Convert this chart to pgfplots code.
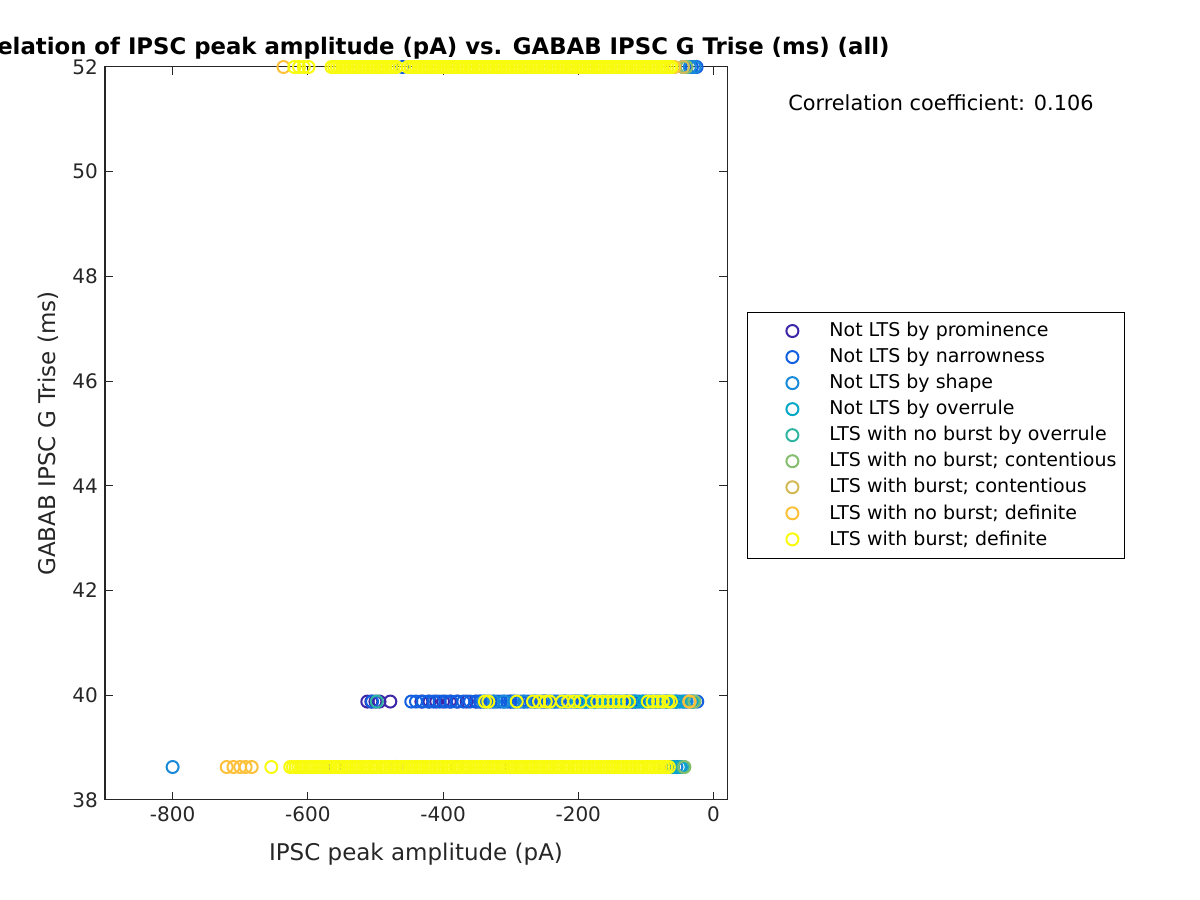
\documentclass[border=0pt]{standalone}
\usepackage{pgfplots}
\pgfplotsset{compat=1.18}
\usepackage{fontspec}
\setmainfont{DejaVu Sans}

\definecolor{c1}{RGB}{62,38,168}
\definecolor{c2}{RGB}{18,96,224}
\definecolor{c3}{RGB}{24,138,216}
\definecolor{c4}{RGB}{6,168,200}
\definecolor{c5}{RGB}{48,182,160}
\definecolor{c6}{RGB}{132,190,110}
\definecolor{c7}{RGB}{212,186,86}
\definecolor{c8}{RGB}{252,192,58}
\definecolor{c9}{RGB}{249,251,14}
\definecolor{axgray}{RGB}{38,38,38}

\begin{document}
\begin{tikzpicture}
\useasboundingbox (0,0) rectangle (600pt,450pt);
\begin{axis}[
  at={(52.5pt,50pt)}, anchor=south west,
  scale only axis,
  width=311pt, height=366.5pt,
  xmin=-900, xmax=20,
  ymin=38, ymax=52,
  xtick={-800,-600,-400,-200,0},
  ytick={38,40,...,52},
  tick align=inside,
  major tick length=4pt,
  axis line style={axgray, line width=0.5pt},
  every tick/.style={axgray, line width=0.5pt},
  tick label style={font=\fontsize{10}{12}\selectfont, text=axgray},
  /pgf/number format/assume math mode=true,
  /pgf/number format/set thousands separator={},
  xlabel={IPSC peak amplitude (pA)},
  ylabel={GABAB IPSC G Trise (ms)},
  label style={font=\fontsize{11.5}{13}\selectfont, text=axgray},
  xlabel style={yshift=-3.5pt},
  title={Correlation of IPSC peak amplitude (pA) vs. GABAB IPSC G Trise (ms) (all)},
  title style={font=\bfseries\fontsize{11.4}{13}\selectfont, yshift=-5.5pt},
  clip=false,
  every axis plot/.append style={only marks, mark=o, mark size=3pt, line width=1pt},
  legend cell align=left,
  legend style={at={(1.032,0.666)}, anchor=north west, draw=black, line width=0.5pt,
    font=\fontsize{9.5}{11}\selectfont, row sep=0.3pt, inner xsep=2pt, inner ysep=3pt},
  legend image code/.code={\path[draw=none] (0pt,0pt) -- (37pt,0pt);
    \draw[#1, only marks] plot coordinates {(20.5pt,0pt)};},
]
% Not LTS by prominence
\addplot[c1] coordinates {
(-512,39.88) (-506,39.88) (-500,39.88) (-494,39.88) (-478,39.88) (-432,39.88) (-420,39.88)
(-410,39.88) (-400,39.88) (-390,39.88) (-378,39.88) (-365,39.88) (-352,39.88) (-345,39.88)
(-300,39.88) (-250,39.88) (-120,39.88) (-380,38.63) (-300,38.63)};
% Not LTS by narrowness
\addplot[c2] coordinates {
(-505,39.88) (-447,39.88) (-440,39.88) (-430,39.88) (-422,39.88) (-414,39.88) (-405,39.88)
(-396,39.88) (-388,39.88) (-380,39.88) (-370,39.88) (-360,39.88) (-350,39.88) (-340,39.88)
(-330,39.88) (-320,39.88) (-310,39.88) (-300,39.88) (-290,39.88) (-280,39.88) (-270,39.88)
(-260,39.88) (-250,39.88) (-240,39.88) (-230,39.88) (-220,39.88) (-210,39.88) (-200,39.88)
(-190,39.88) (-180,39.88) (-170,39.88) (-160,39.88) (-150,39.88) (-140,39.88) (-130,39.88)
(-120,39.88) (-110,39.88) (-100,39.88) (-90,39.88) (-80,39.88) (-70,39.88) (-60,39.88)
(-50,39.88) (-40,39.88) (-30,39.88) (-24,39.88)
(-345,39.88) (-335,39.88) (-325,39.88) (-315,39.88) (-305,39.88) (-295,39.88) (-285,39.88)
(-275,39.88) (-265,39.88) (-255,39.88) (-245,39.88) (-235,39.88) (-225,39.88) (-215,39.88)
(-205,39.88) (-195,39.88) (-185,39.88) (-175,39.88) (-165,39.88) (-155,39.88) (-145,39.88)
(-135,39.88) (-125,39.88) (-115,39.88) (-105,39.88) (-95,39.88) (-85,39.88) (-75,39.88)
(-65,39.88) (-55,39.88) (-45,39.88) (-35,39.88)
(-460,52) (-40,52) (-32,52) (-25,52)
(-70,38.63) (-60,38.63) (-55,38.63) (-560,38.63) (-470,38.63)};
% Not LTS by shape
\addplot[c3] coordinates {
(-800,38.63) (-62,38.63) (-55,38.63) (-48,38.63)
(-340,39.88) (-325,39.88) (-310,39.88) (-295,39.88) (-280,39.88) (-265,39.88) (-250,39.88)
(-235,39.88) (-220,39.88) (-205,39.88) (-190,39.88) (-175,39.88) (-160,39.88) (-145,39.88)
(-130,39.88) (-115,39.88) (-100,39.88) (-85,39.88) (-70,39.88) (-55,39.88) (-40,39.88)
(-35,52) (-28,52)};
% Not LTS by overrule
\addplot[c4] coordinates {
(-200,39.88) (-188,39.88) (-176,39.88) (-164,39.88) (-152,39.88) (-140,39.88) (-128,39.88)
(-116,39.88) (-104,39.88) (-92,39.88) (-80,39.88) (-68,39.88) (-56,39.88) (-44,39.88)
(-32,39.88) (-60,38.63) (-50,38.63) (-45,52)};
% LTS with no burst by overrule
\addplot[c5] coordinates {(-498,39.88) (-30,39.88) (-45,38.63)};
% LTS with no burst; contentious
\addplot[c6] coordinates {(-43,38.63) (-40,52) (-28,39.88)};
% LTS with burst; contentious
\addplot[c7] coordinates {(-45,52) (-35,39.88) (-80,38.63)};
% LTS with no burst; definite
\addplot[c8] coordinates {
(-636,52) (-58,52) (-720,38.63) (-710,38.63) (-700,38.63) (-692,38.63) (-683,38.63)
(-36,39.88) (-90,38.63)};
% LTS with burst; definite
\addplot[c9] coordinates {
(-620,52) (-613,52) (-606,52) (-599,52)
(-565,52) (-557,52) (-549,52) (-541,52) (-533,52) (-525,52) (-517,52) (-509,52) (-501,52)
(-493,52) (-485,52) (-477,52) (-469,52)
(-561,52) (-553,52) (-545,52) (-537,52) (-529,52) (-521,52) (-513,52) (-505,52) (-497,52)
(-489,52) (-481,52) (-473,52)
(-452,52) (-444,52) (-436,52) (-428,52) (-420,52) (-412,52) (-404,52) (-396,52) (-388,52)
(-380,52) (-372,52) (-364,52) (-356,52) (-348,52) (-340,52) (-332,52) (-324,52) (-316,52)
(-308,52) (-300,52) (-292,52) (-284,52) (-276,52) (-268,52) (-260,52) (-252,52) (-244,52)
(-236,52) (-228,52) (-220,52) (-212,52) (-204,52) (-196,52) (-188,52) (-180,52) (-172,52)
(-164,52) (-156,52) (-148,52) (-140,52) (-132,52) (-124,52) (-116,52) (-108,52) (-100,52)
(-92,52) (-84,52) (-76,52) (-68,52) (-62,52)
(-448,52) (-440,52) (-432,52) (-424,52) (-416,52) (-408,52) (-400,52) (-392,52) (-384,52)
(-376,52) (-368,52) (-360,52) (-352,52) (-344,52) (-336,52) (-328,52) (-320,52) (-312,52)
(-304,52) (-296,52) (-288,52) (-280,52) (-272,52) (-264,52) (-256,52) (-248,52) (-240,52)
(-232,52) (-224,52) (-216,52) (-208,52) (-200,52) (-192,52) (-184,52) (-176,52) (-168,52)
(-160,52) (-152,52) (-144,52) (-136,52) (-128,52) (-120,52) (-112,52) (-104,52) (-96,52)
(-88,52) (-80,52) (-72,52) (-64,52)
(-338,39.88) (-333,39.88) (-291,39.88) (-267,39.88) (-258,39.88) (-248,39.88) (-242,39.88)
(-224,39.88) (-215,39.88) (-206,39.88) (-197,39.88) (-180,39.88) (-172,39.88) (-164,39.88)
(-156,39.88) (-148,39.88) (-140,39.88) (-132,39.88) (-125,39.88) (-97,39.88) (-90,39.88)
(-82,39.88) (-75,39.88) (-67,39.88) (-63,39.88)
(-654,38.63)
(-626,38.63) (-618,38.63) (-610,38.63) (-602,38.63) (-594,38.63) (-586,38.63) (-578,38.63)
(-570,38.63) (-562,38.63) (-554,38.63) (-546,38.63) (-538,38.63) (-530,38.63) (-522,38.63)
(-514,38.63) (-506,38.63) (-498,38.63) (-490,38.63) (-482,38.63) (-474,38.63) (-466,38.63)
(-458,38.63) (-450,38.63) (-442,38.63) (-434,38.63) (-426,38.63) (-418,38.63) (-410,38.63)
(-402,38.63) (-394,38.63) (-386,38.63) (-378,38.63) (-370,38.63) (-362,38.63) (-354,38.63)
(-346,38.63) (-338,38.63) (-330,38.63) (-322,38.63) (-314,38.63) (-306,38.63) (-298,38.63)
(-290,38.63) (-282,38.63) (-274,38.63) (-266,38.63) (-258,38.63) (-250,38.63) (-242,38.63)
(-234,38.63) (-226,38.63) (-218,38.63) (-210,38.63) (-202,38.63) (-194,38.63) (-186,38.63)
(-178,38.63) (-170,38.63) (-162,38.63) (-154,38.63) (-146,38.63) (-138,38.63) (-130,38.63)
(-122,38.63) (-114,38.63) (-106,38.63) (-98,38.63) (-90,38.63) (-82,38.63) (-74,38.63)
(-66,38.63)
(-622,38.63) (-614,38.63) (-606,38.63) (-598,38.63) (-590,38.63) (-582,38.63) (-574,38.63)
(-566,38.63) (-558,38.63) (-550,38.63) (-542,38.63) (-534,38.63) (-526,38.63) (-518,38.63)
(-510,38.63) (-502,38.63) (-494,38.63) (-486,38.63) (-478,38.63) (-470,38.63) (-462,38.63)
(-454,38.63) (-446,38.63) (-438,38.63) (-430,38.63) (-422,38.63) (-414,38.63) (-406,38.63)
(-398,38.63) (-390,38.63) (-382,38.63) (-374,38.63) (-366,38.63) (-358,38.63) (-350,38.63)
(-342,38.63) (-334,38.63) (-326,38.63) (-318,38.63) (-310,38.63) (-302,38.63) (-294,38.63)
(-286,38.63) (-278,38.63) (-270,38.63) (-262,38.63) (-254,38.63) (-246,38.63) (-238,38.63)
(-230,38.63) (-222,38.63) (-214,38.63) (-206,38.63) (-198,38.63) (-190,38.63) (-182,38.63)
(-174,38.63) (-166,38.63) (-158,38.63) (-150,38.63) (-142,38.63) (-134,38.63) (-126,38.63)
(-118,38.63) (-110,38.63) (-102,38.63) (-94,38.63) (-86,38.63) (-78,38.63) (-70,38.63)};
\legend{Not LTS by prominence, Not LTS by narrowness, Not LTS by shape, Not LTS by overrule,
LTS with no burst by overrule, LTS with no burst; contentious, LTS with burst; contentious,
LTS with no burst; definite, LTS with burst; definite}
\node[font=\fontsize{10.4}{12}\selectfont, anchor=center] at (rel axis cs:1.344,0.951) {Correlation coefficient: 0.106};
\end{axis}
\end{tikzpicture}
\end{document}
